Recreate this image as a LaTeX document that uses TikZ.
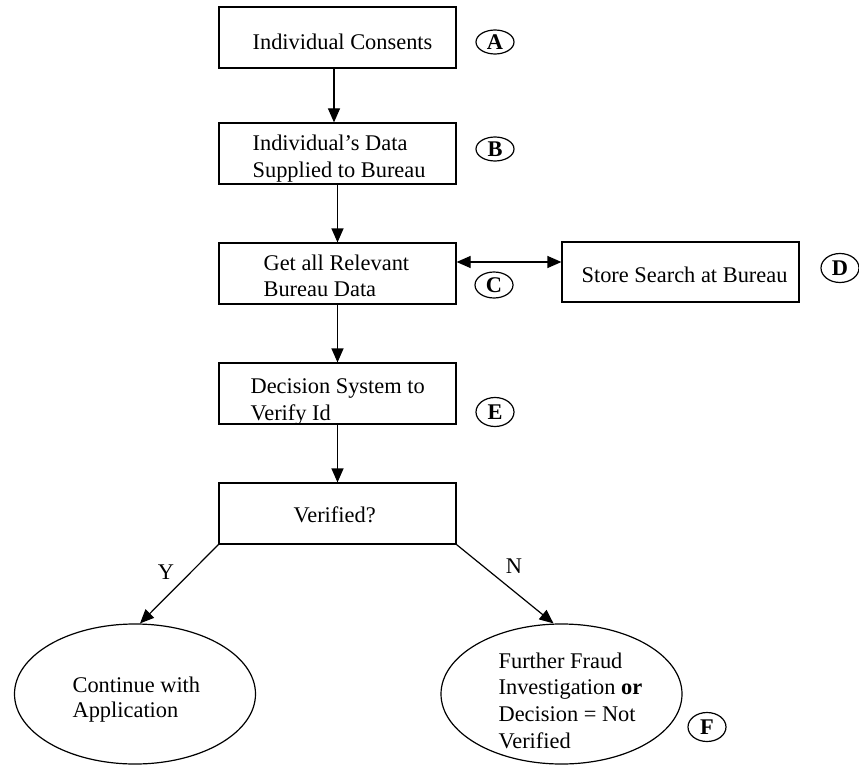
\documentclass[tikz,border=0pt]{standalone}
\usepackage{fontspec}
\setmainfont{Liberation Serif}
\usetikzlibrary{shapes.geometric,arrows.meta}
% several lines of text whose baseline is that of the first line
\newcommand\stacklines[1]{\begin{tabular}[t]{@{}l@{}}#1\end{tabular}}
\begin{document}
\begin{tikzpicture}[x=1pt,y=-1pt,line width=1.2pt,
  every node/.style={inner sep=0pt,font=\fontsize{22.4}{27}\selectfont},
  stepbox/.style={draw,rectangle,minimum width=237pt,minimum height=61pt},
  oval/.style={draw,ellipse,minimum width=241pt,minimum height=140pt},
  tag/.style={draw,ellipse,minimum width=38pt,font=\fontsize{22.4}{27}\selectfont\bfseries},
  txt/.style={anchor=base west},
  tip/.tip={Triangle[length=14pt,width=12pt]},
  flow/.style={-tip},
]
\useasboundingbox (0,0) rectangle (859,765);

% process boxes
\node[stepbox] (bA) at (337.5,37.5) {};
\node[stepbox] (bB) at (337.5,153.5) {};
\node[stepbox] (bC) at (337.5,273.5) {};
\node[stepbox,minimum height=60pt] (bD) at (680.5,272) {};
\node[stepbox] (bE) at (337.5,393.5) {};
\node[stepbox] (bV) at (337.5,513.5) {};

% outcomes
\node[oval] (oY) at (135,694) {};
\node[oval] (oN) at (561.5,694) {};

% box texts
\node[txt] (tA) at (252,50) {Individual Consents};
\node[txt] (tB) at (252,150) {\stacklines{Individual’s Data\\Supplied to Bureau}};
\node[txt] (tC) at (263,270) {\fontsize{22.4}{26}\selectfont\stacklines{Get all Relevant\\Bureau Data}};
\node[txt] (tD) at (581,282) {Store Search at Bureau};
\node[txt] (tE) at (250,393) {\stacklines{Decision System to\\Verify Id}};
\node[txt] (tV) at (293,522) {Verified?};
\node[txt] (tY) at (72,692) {\fontsize{22.4}{25}\selectfont\stacklines{Continue with\\Application}};
\node[txt] (tN) at (498,668) {\fontsize{22.4}{26.7}\selectfont\stacklines{Further Fraud\\Investigation \textbf{or}\\Decision = Not\\Verified}};

% step tags
\node[tag,minimum height=24pt] (cA) at (495,42) {A};
\node[tag,minimum height=24pt] (cB) at (495,149) {B};
\node[tag,minimum height=26pt] (cC) at (494,285) {C};
\node[tag,minimum height=29pt] (cD) at (840,268) {D};
\node[tag,minimum height=29pt] (cE) at (495,412) {E};
\node[tag,minimum height=29pt] (cF) at (707,727) {F};

% branch labels
\node (lY) at (166,572) {Y};
\node (lN) at (514,566) {N};

% connectors
\draw[flow] ([xshift=-3.5pt]bA.south) -- ([xshift=-3.5pt]bB.north);
\draw[flow] (bB.south) -- (bC.north);
\draw[flow] (bC.south) -- (bE.north);
\draw[flow] (bE.south) -- (bV.north);
\draw[tip-tip] ([yshift=11.5pt]bC.east) -- ([yshift=10pt]bD.west);
\draw[flow] (bV.south west) -- ([xshift=5pt]oY.north);
\draw[flow] (bV.south east) -- ([xshift=-8pt]oN.north);
\end{tikzpicture}
\end{document}
